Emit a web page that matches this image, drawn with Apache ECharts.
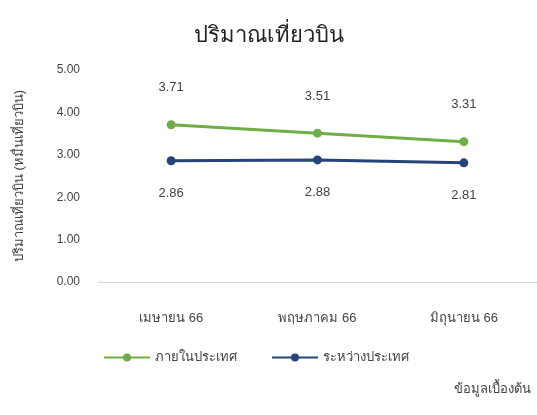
<!DOCTYPE html>
<html><head><meta charset="utf-8">
<script src="https://cdn.jsdelivr.net/npm/echarts@6/dist/echarts.min.js"></script>
<style>html,body{margin:0;padding:0;background:#fff}#c{width:537px;height:415px}</style>
</head><body><div id="c"></div>
<script>
const title = 'ปริมาณเที่ยวบิน';
const yAxisName = 'ปริมาณเที่ยวบิน (หมื่นเที่ยวบิน)';
const categories = ['เมษายน 66', 'พฤษภาคม 66', 'มิถุนายน 66'];
const domestic = [3.71, 3.51, 3.31];
const international = [2.86, 2.88, 2.81];
const seriesNames = ['ภายในประเทศ', 'ระหว่างประเทศ'];
const note = 'ข้อมูลเบื้องต้น';

const chart = echarts.init(document.getElementById('c'));
const font = 'sans-serif';
chart.setOption({
  backgroundColor: '#fff',
  textStyle: {fontFamily: font},
  title: {text: title, left: 'center', top: 20,
    textStyle: {fontSize: 22, fontWeight: 'normal', color: '#222'}},
  legend: {data: seriesNames, left: 98, top: 346, itemWidth: 46, itemHeight: 10, itemGap: 34,
    textStyle: {fontSize: 13, color: '#444'}},
  graphic: [{type: 'text', right: 6, top: 383,
    style: {text: note, fontSize: 13, fill: '#444', fontFamily: font}}],
  grid: {left: 98, right: 0, top: 70, bottom: 133},
  xAxis: {type: 'category', data: categories, boundaryGap: true,
    axisLine: {lineStyle: {color: '#d9d9d9'}}, axisTick: {show: false},
    axisLabel: {fontSize: 13, color: '#444', margin: 30}},
  yAxis: {type: 'value', min: 0, max: 5, interval: 1,
    name: yAxisName, nameLocation: 'middle', nameGap: 72, nameRotate: 90,
    nameTextStyle: {fontSize: 13, color: '#444'},
    axisLine: {show: false}, axisTick: {show: false}, splitLine: {show: false},
    axisLabel: {fontSize: 12, color: '#444', margin: 18, formatter: v => v.toFixed(2)}},
  series: [
    {name: seriesNames[0], type: 'line', data: domestic, color: '#70AD47',
     symbol: 'circle', symbolSize: 9, lineStyle: {width: 3},
     label: {show: true, position: 'top', distance: 26, fontSize: 13, color: '#444', formatter: p => p.value.toFixed(2)}},
    {name: seriesNames[1], type: 'line', data: international, color: '#264478',
     symbol: 'circle', symbolSize: 9, lineStyle: {width: 3},
     label: {show: true, position: 'bottom', distance: 22, fontSize: 13, color: '#444', formatter: p => p.value.toFixed(2)}}
  ]
});
</script></body></html>
